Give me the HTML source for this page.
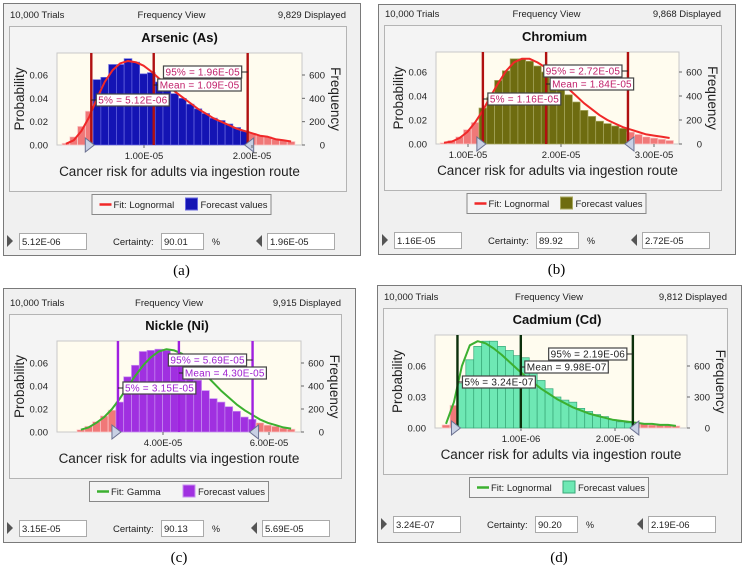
<!DOCTYPE html>
<html><head><meta charset="utf-8"><style>
body{margin:0;background:#fff;}
svg{display:block;font-family:"Liberation Sans",sans-serif;}
</style></head><body>
<svg id="s" width="744" height="567" viewBox="0 0 744 567" xmlns="http://www.w3.org/2000/svg"></svg>
<script>
// ---- data ----
const binsA=[.0015,.007,.016,.029,.056,.058,.069,.069,.074,.071,.061,.062,.054,.050,.044,.040,.035,.031,.027,.023,.021,.018,.015,.012,.010,.008,.007,.005,.004,.003];
const curveA=[.001,.004,.012,.024,.040,.054,.064,.070,.072,.071,.068,.063,.057,.052,.046,.041,.036,.031,.027,.023,.020,.017,.014,.012,.010,.008,.007,.005,.004,.003];
const binsB=[.001,.003,.006,.012,.018,.030,.039,.053,.061,.071,.071,.069,.065,.060,.051,.046,.041,.035,.028,.023,.019,.017,.015,.013,.010,.008,.006,.005,.004,.003];
const curveB=[.001,.002,.005,.010,.018,.028,.040,.051,.061,.068,.071,.071,.068,.064,.058,.052,.046,.040,.034,.029,.024,.020,.017,.014,.012,.010,.008,.007,.006,.005];
const binsC=[.002,.005,.009,.014,.019,.026,.048,.058,.070,.071,.072,.071,.067,.059,.052,.045,.036,.029,.026,.022,.018,.013,.011,.008,.006,.005,.0035,.0025];
const curveC=[.002,.004,.008,.013,.020,.029,.039,.049,.058,.065,.070,.072,.071,.068,.063,.057,.050,.043,.036,.030,.024,.019,.015,.011,.008,.006,.004,.003];
const binsD=[.003,.022,.043,.066,.079,.084,.084,.079,.075,.070,.068,.056,.046,.038,.030,.027,.025,.019,.016,.013,.011,.008,.006,.005,.004,.004,.003,.003,.003,.002];
const curveD=[.004,.025,.060,.080,.084,.082,.077,.071,.064,.057,.050,.044,.038,.033,.028,.024,.020,.017,.014,.012,.010,.008,.007,.006,.005,.004,.004,.003,.003,.002];
const stats={
 a:{p5:5.12e-6,mean:1.09e-5,p95:1.96e-5,cert:"90.01",disp:"9,829",l5:"5.12E-06",lm:"1.09E-05",l95:"1.96E-05"},
 b:{p5:1.16e-5,mean:1.84e-5,p95:2.72e-5,cert:"89.92",disp:"9,868",l5:"1.16E-05",lm:"1.84E-05",l95:"2.72E-05"},
 c:{p5:3.15e-5,mean:4.30e-5,p95:5.69e-5,cert:"90.13",disp:"9,915",l5:"3.15E-05",lm:"4.30E-05",l95:"5.69E-05"},
 d:{p5:3.24e-7,mean:9.98e-7,p95:2.19e-6,cert:"90.20",disp:"9,812",l5:"3.24E-07",lm:"9.98E-07",l95:"2.19E-06"}
};
const xTicksA=[1e-5,2e-5], xTickLabA=["1.00E-05","2.00E-05"];
const xTicksB=[1e-5,2e-5,3e-5], xTickLabB=["1.00E-05","2.00E-05","3.00E-05"];
const xTicksC=[4e-5,6e-5], xTickLabC=["4.00E-05","6.00E-05"];
const xTicksD=[1e-6,2e-6], xTickLabD=["1.00E-06","2.00E-06"];
const yTicksABC=[0,0.02,0.04,0.06], yTickLabABC=["0.00","0.02","0.04","0.06"];
const fTicksABC=[0,200,400,600];
const yTicksD=[0,0.03,0.06], yTickLabD=["0.00","0.03","0.06"];
const fTicksD=[0,300,600];

// ---- layout config ----
const cfgs=[
 {id:'a',title:'Arsenic (As)',box:[3,3,360,255],plot:[57,53,302,145],tx:[1e-5,144,2e-5,252],y06:75,range:[0.241e-5,2.398e-5],bins:binsA,curve:curveA,xt:xTicksA,xl:xTickLabA,yt:yTicksABC,yl:yTickLabABC,ft:fTicksABC,
  bar:'#1414b4',barEdge:'#6a6ae0',tail:'#f07878',line:'#b01010',fit:'#f02828',lab:'#c0206a',fitName:'Fit: Lognormal',cap:'(a)'},
 {id:'b',title:'Chromium',box:[378,4,735,254],plot:[436,52,679,144],tx:[1e-5,468,2e-5,561],y06:72,range:[0.70e-5,3.21e-5],bins:binsB,curve:curveB,xt:xTicksB,xl:xTickLabB,yt:yTicksABC,yl:yTickLabABC,ft:fTicksABC,
  bar:'#6e6c10',barEdge:'#a8a860',tail:'#f07878',line:'#b01010',fit:'#f02828',lab:'#c0206a',fitName:'Fit: Lognormal',cap:'(b)'},
 {id:'c',title:'Nickle (Ni)',box:[3,288,355,542],plot:[57,341,301,432],tx:[4e-5,163,6e-5,269],y06:363,range:[2.377e-5,6.49e-5],bins:binsC,curve:curveC,xt:xTicksC,xl:xTickLabC,yt:yTicksABC,yl:yTickLabABC,ft:fTicksABC,
  bar:'#a030e0',barEdge:'#c890f0',tail:'#f07878',line:'#a020e0',fit:'#3cb030',lab:'#a020d0',fitName:'Fit: Gamma',cap:'(c)'},
 {id:'d',title:'Cadmium (Cd)',box:[377,285,741,542],plot:[435,335,687,428],tx:[1e-6,521,2e-6,615],y06:366,range:[0.16e-6,2.69e-6],bins:binsD,curve:curveD,xt:xTicksD,xl:xTickLabD,yt:yTicksD,yl:yTickLabD,ft:fTicksD,
  bar:'#6ee8b4',barEdge:'#38a878',tail:'#f07878',line:'#0c300c',fit:'#3cb030',lab:'#222222',fitName:'Fit: Lognormal',cap:'(d)'}
];

const NS='http://www.w3.org/2000/svg';
const svg=document.getElementById('s');
function mk(tag,attrs,parent,txt){const e=document.createElementNS(NS,tag);for(const k in attrs)e.setAttribute(k,attrs[k]);if(txt!==undefined)e.textContent=txt;(parent||svg).appendChild(e);return e;}

cfgs.forEach(c=>{
 const st=stats[c.id];
 const g=mk('g',{});
 
 
 const [bx0,by0,bx1,by1]=c.box,[px0,py0,px1,py1]=c.plot;
 const bcx=(bx0+bx1)/2;
 const xs=v=>c.tx[1]+(v-c.tx[0])*(c.tx[3]-c.tx[1])/(c.tx[2]-c.tx[0]);
 const k=(py1-c.y06)/0.06;
 const ys=p=>py1-p*k;
 // panel box
 const pb=mk('rect',{x:bx0+.5,y:by0+.5,width:bx1-bx0,height:by1-by0,fill:'#f0f0f0',stroke:'#7a7a7a'},g);
 
 
 // header
 let t=mk('text',{x:bx0+7,y:py0-35,'font-size':9.5,fill:'#222'},g,'10,000 Trials');
 
 t=mk('text',{x:bcx-10,y:py0-35,'font-size':9.5,fill:'#222','text-anchor':'middle'},g,'Frequency View');
 
 t=mk('text',{x:bx1-14,y:py0-35,'font-size':9.5,fill:'#222','text-anchor':'end'},g,st.disp+' Displayed');
 
 // inner dotted box
 const ib=mk('rect',{x:bx0+6.5,y:py0-26.5,width:bx1-bx0-20,height:py1-py0+73,fill:'#f4f4f4',stroke:'#777','stroke-dasharray':'1,1'},g);
 
 t=mk('text',{x:bcx-2,y:py0-11,'font-size':13,'font-weight':'bold',fill:'#111','text-anchor':'middle'},g,c.title);
 
 // plot background
 const pr=mk('rect',{x:px0,y:py0,width:px1-px0,height:py1-py0,fill:'#fffcef',stroke:'#c8c8c8'},g);
 
 // bars
 const n=c.bins.length,bw=(c.range[1]-c.range[0])/n;
 c.bins.forEach((p,i)=>{
  const v0=c.range[0]+i*bw,v1=v0+bw,cen=(v0+v1)/2;
  const tail=cen<st.p5||cen>st.p95;
  const x0=xs(v0),x1=xs(v1);
  const r=mk('rect',{x:x0,y:ys(p),width:x1-x0,height:py1-ys(p),fill:tail?c.tail:c.bar,stroke:tail?'#fbd0d0':c.barEdge,'stroke-width':0.7},g);
  
  
 });
 // fit curve
 let d='';
 c.curve.forEach((p,i)=>{const v=c.range[0]+(i+.5)*bw;d+=(i?'L':'M')+xs(v).toFixed(1)+','+ys(p).toFixed(1);});
 const fc=mk('path',{d:d,fill:'none',stroke:c.fit,'stroke-width':2,'stroke-linejoin':'round'},g);
 
 // percentile lines
 [['p5','percentile-5-line'],['mean','mean-line'],['p95','percentile-95-line']].forEach(([key,nm])=>{
  const l=mk('line',{x1:xs(st[key]),x2:xs(st[key]),y1:py0,y2:py1,stroke:c.line,'stroke-width':2.4},g);
  
 });
 // labels
 function lab(txt,x,y,anchorRight,nm){
  const w=txt.length*5.3+4,h=12;
  const bxL=anchorRight?x-w:x;
  const gg=mk('g',{},g);
  
  mk('rect',{x:bxL,y:y,width:w,height:h,fill:'#fff',stroke:'#444','stroke-width':1.2},gg);
  mk('text',{x:bxL+2,y:y+9.5,'font-size':10,fill:c.lab,'textLength':w-4},gg,txt);
  return bxL;
 }
 const x5=xs(st.p5),xm=xs(st.mean),x95=xs(st.p95);
 lab('5% = '+st.l5,x5+5,py0+41,false,'percentile-5-label');
 mk('line',{x1:x5,x2:x5+5,y1:py0+47,y2:py0+47,stroke:'#222'},g);
 lab('Mean = '+st.lm,xm+4,py0+26,false,'mean-label');
 mk('line',{x1:xm,x2:xm+4,y1:py0+32,y2:py0+32,stroke:'#222'},g);
 lab('95% = '+st.l95,x95-6,py0+13,true,'percentile-95-label');
 mk('line',{x1:x95-6,x2:x95,y1:py0+19,y2:py0+19,stroke:'#222'},g);
 // triangles
 let tr=mk('path',{d:`M${x5-6},${py1-7}L${x5+3},${py1}L${x5-6},${py1+7}Z`,fill:'#c8d0e4',stroke:'#6a7090'},g);
 
 tr=mk('path',{d:`M${x95+6},${py1-7}L${x95-3},${py1}L${x95+6},${py1+7}Z`,fill:'#c8d0e4',stroke:'#6a7090'},g);
 
 // x ticks
 c.xt.forEach((v,i)=>{
  mk('line',{x1:xs(v),x2:xs(v),y1:py1,y2:py1+3,stroke:'#666'},g);
  const tt=mk('text',{x:xs(v),y:py1+14,'font-size':9.5,fill:'#222','text-anchor':'middle'},g,c.xl[i]);
  
 });
 t=mk('text',{x:(px0+px1)/2,y:py1+31,'font-size':13.5,fill:'#222','text-anchor':'middle'},g,'Cancer risk for adults via ingestion route');
 
 // y ticks
 c.yt.forEach((v,i)=>{
  const tt=mk('text',{x:px0-9,y:ys(v)+3.5,'font-size':9.5,fill:'#222','text-anchor':'end'},g,c.yl[i]);
  
 });
 c.ft.forEach(f=>{
  mk('line',{x1:px1,x2:px1+3,y1:ys(f/10000),y2:ys(f/10000),stroke:'#666'},g);
  const tt=mk('text',{x:px1+23,y:ys(f/10000)+3.5,'font-size':9.5,fill:'#222','text-anchor':'end'},g,String(f));
  
 });
 const cy=(py0+py1)/2;
 t=mk('text',{x:px0-38,y:cy,'font-size':13.5,fill:'#222','text-anchor':'middle',transform:`rotate(-90 ${px0-38} ${cy})`,dy:5},g,'Probability');
 
 t=mk('text',{x:px1+34,y:cy,'font-size':13.5,fill:'#222','text-anchor':'middle',transform:`rotate(90 ${px1+34} ${cy})`,dy:5},g,'Frequency');
 
 // legend
 const lg=mk('g',{},g);
 
 const lx=bcx-90,ly=py1+49;
 mk('rect',{x:lx+.5,y:ly+.5,width:179,height:20,fill:'#f4f4f4',stroke:'#888'},lg);
 mk('line',{x1:lx+8,x2:lx+20,y1:ly+10.5,y2:ly+10.5,stroke:c.fit,'stroke-width':2.5},lg);
 mk('text',{x:lx+22,y:ly+14,'font-size':9.5,fill:'#222'},lg,c.fitName);
 mk('rect',{x:lx+94,y:ly+4,width:12,height:12,fill:c.bar,stroke:c.barEdge},lg);
 mk('text',{x:lx+109,y:ly+14,'font-size':9.5,fill:'#222'},lg,'Forecast values');
 // bottom controls
 const by=py1+88;
 let a=mk('path',{d:`M${bx0+4},${by+2}L${bx0+10},${by+8}L${bx0+4},${by+14}Z`,fill:'#555'},g);
 
 function box(x,w,txt,nm){
  const gg=mk('g',{},g);
  
  mk('rect',{x:x+.5,y:by+.5,width:w,height:16,fill:'#fff',stroke:'#aaa'},gg);
  mk('text',{x:x+3,y:by+12,'font-size':9.5,fill:'#222'},gg,txt);
 }
 box(bx0+16,67,st.l5,'lower-bound-input');
 t=mk('text',{x:bx0+110,y:by+12,'font-size':9.5,fill:'#222'},g,'Certainty:');
 
 box(bx0+158,42,st.cert,'certainty-input');
 t=mk('text',{x:bx0+209,y:by+12,'font-size':9,fill:'#222'},g,'%');
 
 a=mk('path',{d:`M${bx1-98},${by+2}L${bx1-104},${by+8}L${bx1-98},${by+14}Z`,fill:'#555'},g);
 
 box(bx1-93,67,st.l95,'upper-bound-input');
 // caption
 t=mk('text',{x:bcx,y:by1+20,'font-size':15,fill:'#000','text-anchor':'middle','font-family':'Liberation Serif, serif'},svg,c.cap);
 
});
</script>
</body></html>
